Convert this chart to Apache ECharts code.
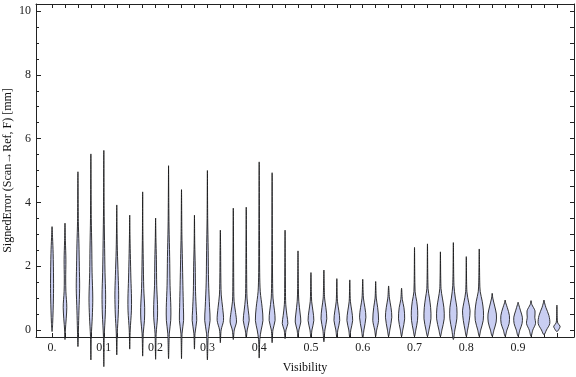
<!DOCTYPE html>
<html>
<head>
<meta charset="utf-8">
<script src="https://cdn.jsdelivr.net/npm/echarts@6/dist/echarts.min.js"></script>
<style>
  html, body { margin: 0; padding: 0; background: #fff; }
  #main { width: 576px; height: 377px; }
</style>
</head>
<body>
<div id="main"></div>
<script>
// violin positions along the visibility axis
const visibility = [0, 0.025, 0.05, 0.075, 0.1, 0.125, 0.15, 0.175, 0.2, 0.225,
  0.25, 0.275, 0.3, 0.325, 0.35, 0.375, 0.4, 0.425, 0.45, 0.475,
  0.5, 0.525, 0.55, 0.575, 0.6, 0.625, 0.65, 0.675, 0.7, 0.725,
  0.75, 0.775, 0.8, 0.825, 0.85, 0.875, 0.9, 0.925, 0.95, 0.975];

// min / max of signed error in each bin [mm]
const lows = [-0.05, -0.3, -0.52, -0.94, -1.15, -0.78, -0.6, -0.82, -0.92, -0.9,
  -0.9, -0.6, -0.94, -0.4, -0.3, -0.25, -0.88, -0.4, -0.27, -0.25,
  -0.25, -0.37, -0.25, -0.25, -0.25, -0.2, -0.2, -0.2, -0.2, -0.2,
  -0.2, -0.3, -0.2, -0.2, -0.2, -0.2, -0.2, -0.2, -0.15, -0.05];
const highs = [3.24, 3.35, 4.96, 5.52, 5.63, 3.92, 3.6, 4.33, 3.51, 5.15,
  4.4, 3.6, 5.0, 3.13, 3.82, 3.85, 5.27, 4.93, 3.13, 2.48,
  1.8, 1.88, 1.61, 1.57, 1.59, 1.52, 1.38, 1.31, 2.59, 2.7,
  2.45, 2.74, 2.3, 2.54, 1.15, 0.94, 0.87, 0.92, 0.94, 0.78];

// density profile of each violin: [error, density]
const profiles = [
  [[0.2, 0.6], [1.0, 1.4], [1.6, 1.5], [2.4, 1.1], [2.9, 0.5]],
  [[0, 0.4], [0.7, 1.8], [1.2, 0.9], [1.6, 0.7], [2.2, 0.9], [2.8, 0.4]],
  [[0, 0.5], [0.6, 1.0], [1.3, 1.7], [2.0, 1.4], [2.7, 1.0], [3.4, 0.4]],
  [[-0.2, 0.4], [0.4, 1.4], [1.0, 1.9], [1.8, 1.2], [2.6, 0.9], [3.5, 0.4]],
  [[-0.2, 0.4], [0.5, 1.5], [1.1, 1.8], [1.8, 1.2], [2.8, 0.7], [3.8, 0.3]],
  [[-0.1, 0.5], [0.5, 1.5], [1.1, 1.9], [1.7, 1.4], [2.5, 0.6], [3.2, 0.25]],
  [[0, 0.5], [0.6, 1.7], [1.0, 1.8], [1.6, 1.2], [2.4, 0.6], [3.0, 0.25]],
  [[-0.1, 0.6], [0.3, 1.8], [0.7, 2.0], [1.3, 1.1], [2.2, 0.6], [3.0, 0.25]],
  [[-0.1, 0.6], [0.4, 1.9], [0.8, 1.9], [1.4, 1.1], [2.2, 0.8], [2.9, 0.3]],
  [[-0.1, 0.8], [0.3, 2.2], [0.7, 2.3], [1.4, 1.5], [2.3, 1.1], [3.2, 0.5], [4.0, 0.25]],
  [[-0.1, 0.6], [0.3, 2.1], [0.7, 1.9], [1.4, 1.4], [2.2, 0.9], [3.0, 0.4]],
  [[-0.1, 0.6], [0.3, 2.3], [0.6, 1.9], [1.2, 1.1], [2.0, 0.8], [2.7, 0.3]],
  [[-0.1, 0.9], [0.3, 2.7], [0.7, 2.2], [1.5, 1.2], [2.5, 0.8], [3.5, 0.3]],
  [[0, 0.8], [0.3, 3.2], [0.7, 2.3], [1.1, 0.9], [1.8, 0.45], [2.5, 0.3]],
  [[0, 1.0], [0.25, 3.2], [0.55, 2.3], [0.9, 0.8], [1.5, 0.45]],
  [[0, 1.0], [0.3, 3.0], [0.6, 2.1], [1.0, 0.8], [1.6, 0.45]],
  [[-0.3, 0.6], [0, 2.0], [0.3, 3.8], [0.7, 3.0], [1.2, 1.1], [1.8, 0.5], [2.8, 0.35]],
  [[0, 0.8], [0.3, 3.0], [0.6, 2.4], [1.0, 0.9], [1.6, 0.45], [2.5, 0.3]],
  [[0, 0.9], [0.2, 2.8], [0.45, 1.9], [0.8, 0.7], [1.3, 0.4]],
  [[0, 0.9], [0.25, 2.8], [0.5, 2.2], [0.9, 0.8], [1.3, 0.4]],
  [[0, 1.0], [0.3, 2.9], [0.6, 2.0], [0.9, 0.7], [1.2, 0.4]],
  [[0, 1.0], [0.35, 2.9], [0.7, 2.0], [1.0, 0.7]],
  [[0, 1.0], [0.3, 2.9], [0.6, 2.0], [0.9, 0.6]],
  [[0, 1.0], [0.3, 2.9], [0.6, 2.0], [0.9, 0.6]],
  [[0, 1.2], [0.4, 3.2], [0.7, 2.2], [1.0, 0.7]],
  [[0, 1.0], [0.3, 2.9], [0.7, 2.0], [1.0, 0.6]],
  [[0, 1.2], [0.4, 3.2], [0.7, 2.4], [1.0, 0.8]],
  [[0, 1.2], [0.35, 3.1], [0.7, 2.4], [0.95, 0.8]],
  [[0, 1.3], [0.3, 3.0], [0.6, 3.2], [0.9, 2.2], [1.2, 0.6]],
  [[0, 1.5], [0.35, 3.5], [0.7, 3.2], [1.0, 2.0], [1.3, 0.6]],
  [[0, 1.5], [0.35, 3.8], [0.7, 3.5], [1.0, 2.0], [1.3, 0.6]],
  [[0, 1.5], [0.35, 3.5], [0.7, 3.5], [1.0, 2.0], [1.4, 0.6]],
  [[0, 1.3], [0.3, 3.0], [0.6, 3.8], [0.85, 2.5], [1.2, 0.6]],
  [[0, 1.5], [0.3, 4.0], [0.6, 4.2], [0.9, 3.0], [1.2, 1.0], [1.5, 0.5]],
  [[0, 1.8], [0.25, 4.0], [0.5, 4.2], [0.75, 2.5], [1.0, 0.6]],
  [[0, 1.8], [0.2, 4.0], [0.45, 4.3], [0.7, 2.2], [0.85, 0.6]],
  [[0, 1.8], [0.2, 4.0], [0.4, 4.3], [0.6, 2.5], [0.8, 0.6]],
  [[0, 1.8], [0.2, 4.5], [0.4, 3.8], [0.6, 4.0], [0.8, 0.8]],
  [[0, 2.5], [0.2, 5.8], [0.45, 5.0], [0.7, 2.0], [0.85, 0.6]],
  [[0.05, 2.5], [0.12, 3.2], [0.22, 0.8], [0.4, 0.3]]
];

const xLabelValues = [0, 0.1, 0.2, 0.3, 0.4, 0.5, 0.6, 0.7, 0.8, 0.9];
const yLabelValues = [0, 2, 4, 6, 8, 10];
const yMinorValues = [0, 0.5, 1, 1.5, 2, 2.5, 3, 3.5, 4, 4.5, 5, 5.5, 6, 6.5, 7, 7.5, 8, 8.5, 9, 9.5, 10];

let myChart = echarts.init(document.getElementById('main'));

const font = 'Liberation Serif';
const frameLine = { show: true, onZero: false, lineStyle: { color: '#222', width: 1 } };

function renderViolin(params, api) {
  const x = api.value(0), lo = api.value(1), hi = api.value(2);
  const knots = profiles[api.value(3)];
  const unit = api.size([0.025, 0])[0] / 13;
  const side = [[lo, 0]].concat(knots, [[hi, 0]]);
  const right = side.map(k => {
    const p = api.coord([x, k[0]]);
    return [p[0] + k[1] * unit, p[1]];
  });
  const left = side.slice(1, -1).reverse().map(k => {
    const p = api.coord([x, k[0]]);
    return [p[0] - k[1] * unit, p[1]];
  });
  return {
    type: 'polygon',
    shape: { points: right.concat(left), smooth: 0.3 },
    style: { fill: '#c9cef2', stroke: 'rgba(20,20,20,0.85)', lineWidth: 1 }
  };
}

myChart.setOption({
  animation: false,
  grid: { left: 36, right: 2, top: 4, bottom: 40, containLabel: false, outerBoundsMode: 'none' },
  xAxis: [
    {
      type: 'value', min: -0.031, max: 1.008, position: 'bottom',
      name: 'Visibility', nameLocation: 'middle', nameGap: 25, nameMoveOverlap: false,
      nameTextStyle: { fontFamily: font, fontSize: 12, color: '#111' },
      axisLine: frameLine,
      splitLine: { show: false },
      axisTick: { show: true, inside: true, length: 4, customValues: visibility, lineStyle: { color: '#222' } },
      axisLabel: {
        customValues: xLabelValues, margin: 5,
        fontFamily: font, fontSize: 12, color: '#222',
        formatter: v => v === 0 ? '0.' : String(+v.toFixed(1))
      }
    },
    {
      type: 'value', min: -0.031, max: 1.008, position: 'top',
      axisLine: frameLine,
      splitLine: { show: false },
      axisTick: { show: true, inside: true, length: 4, customValues: visibility, lineStyle: { color: '#222' } },
      axisLabel: { show: false }
    }
  ],
  yAxis: [
    {
      type: 'value', min: -0.22, max: 10.22, position: 'left',
      name: 'SignedError (Scan\u2192Ref, F) [mm]', nameLocation: 'middle', nameGap: 22, nameRotate: 90,
      nameMoveOverlap: false,
      nameTextStyle: { fontFamily: font, fontSize: 12, color: '#111' },
      axisLine: frameLine,
      splitLine: { show: false },
      axisTick: { show: true, inside: true, length: 5, customValues: yLabelValues, lineStyle: { color: '#222' } },
      axisLabel: { customValues: yLabelValues, margin: 5, fontFamily: font, fontSize: 12, color: '#222' }
    },
    {
      type: 'value', min: -0.22, max: 10.22, position: 'left',
      axisLine: { show: false, onZero: false },
      splitLine: { show: false },
      axisTick: { show: true, inside: true, length: 3, customValues: yMinorValues, lineStyle: { color: '#222' } },
      axisLabel: { show: false }
    },
    {
      type: 'value', min: -0.22, max: 10.22, position: 'right',
      axisLine: frameLine,
      splitLine: { show: false },
      axisTick: { show: true, inside: true, length: 4, customValues: yMinorValues, lineStyle: { color: '#222' } },
      axisLabel: { show: false }
    }
  ],
  series: [{
    type: 'custom',
    xAxisIndex: 0,
    yAxisIndex: 0,
    clip: false,
    renderItem: renderViolin,
    encode: { x: 0, y: [1, 2] },
    data: visibility.map((v, i) => [v, lows[i], highs[i], i])
  }]
});
</script>
</body>
</html>
